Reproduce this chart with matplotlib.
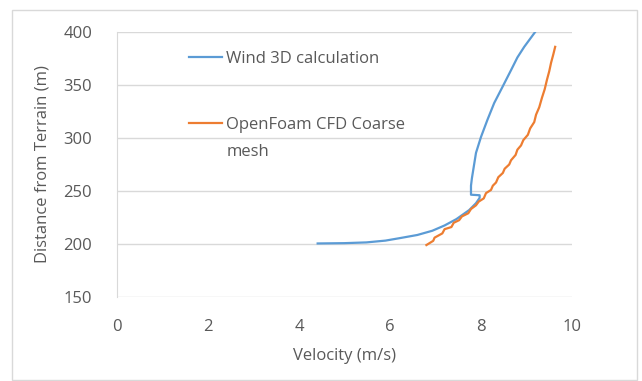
import matplotlib.pyplot as plt
from matplotlib.patches import Rectangle

# Wind 3D calculation (velocity m/s, height m)
wind3d_v = [4.41, 5.00, 5.48, 5.90, 6.21, 6.60, 6.93, 7.20, 7.46, 7.74, 7.89, 7.97,
            7.97, 7.78, 7.78, 7.80, 7.83, 7.89, 8.00, 8.14, 8.29, 8.47, 8.66, 8.80,
            8.95, 9.19]
wind3d_d = [200.5, 200.8, 201.5, 203.2, 205.5, 208.5, 212.5, 217.5, 223.5, 232, 238.5, 243.5,
            246, 246.5, 255, 262, 270, 286, 301, 317, 333, 348, 364, 376,
            386, 400]

# OpenFoam CFD coarse mesh (stair-stepped profile)
cfd_v = [6.80, 6.95, 6.98, 7.15, 7.20, 7.35, 7.40, 7.52, 7.58, 7.72, 7.78, 7.89,
         7.95, 8.06, 8.11, 8.22, 8.26, 8.33, 8.38, 8.48, 8.52, 8.62, 8.66, 8.76,
         8.80, 8.88, 8.93, 9.03, 9.08, 9.17, 9.21, 9.28, 9.34, 9.40, 9.45, 9.50,
         9.54, 9.59, 9.63]
cfd_d = [199, 203, 206, 210, 214, 216, 220, 222.5, 226, 229, 233, 236.5,
         240, 243, 248, 251, 255, 258, 263, 267, 271, 275, 279, 284,
         289, 293, 298, 303, 309, 315, 322, 329, 338, 346, 355, 363,
         371, 379, 386]

xticks = [0, 2, 4, 6, 8, 10]
yticks = [150, 200, 250, 300, 350, 400]

plt.rcParams['font.family'] = ['Open Sans', 'DejaVu Sans']
txt = '#595959'

fig = plt.figure(figsize=(6.42, 3.81), dpi=100)
fig.patches.append(Rectangle((12 / 642, 1 - 380 / 381), 625 / 642, 370 / 381,
                             transform=fig.transFigure, fill=False,
                             edgecolor='#d9d9d9', lw=1))
ax = fig.add_axes([117 / 642, 1 - 297 / 381, 455 / 642, 265 / 381])

ax.plot(wind3d_v, wind3d_d, color='#5B9BD5', lw=1.6, label='Wind 3D calculation')
ax.plot(cfd_v, cfd_d, color='#ED7D31', lw=1.6, label='OpenFoam CFD Coarse')

ax.set_xlim(0, 10)
ax.set_ylim(150, 400)
ax.set_xticks(xticks)
ax.set_yticks(yticks)
ax.grid(axis='y', color='#d9d9d9', lw=1)
ax.set_axisbelow(True)
for s in ['top', 'right', 'bottom']:
    ax.spines[s].set_visible(False)
ax.spines['left'].set_color('#d9d9d9')
ax.tick_params(length=0, labelsize=12, colors=txt)
ax.tick_params(axis='y', pad=18)
ax.tick_params(axis='x', pad=16)

ax.set_xlabel('Velocity (m/s)', fontsize=12, color=txt, labelpad=9)
ax.set_ylabel('Distance from Terrain (m)', fontsize=12, color=txt, labelpad=9)

leg = ax.legend(loc='upper left', bbox_to_anchor=(0.125, 0.985), frameon=False,
                fontsize=12, labelcolor=txt, handlelength=2.0, handletextpad=0.2,
                labelspacing=3.0)
# second line of the wrapped legend label
ax.text(0.242, 0.547, 'mesh', transform=ax.transAxes, fontsize=12, color=txt,
        va='center', ha='left')

plt.savefig('out.png', dpi=100)
